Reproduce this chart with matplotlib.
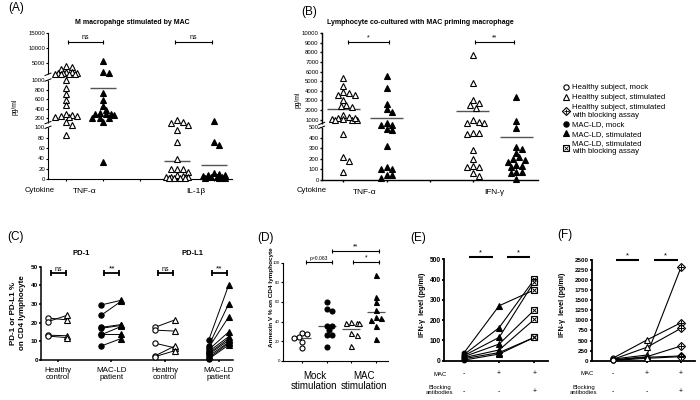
import numpy as np
import matplotlib
matplotlib.use("Agg")
import matplotlib.pyplot as plt
import matplotlib.transforms as mtrans
from matplotlib.lines import Line2D
from matplotlib.legend_handler import HandlerTuple

plt.rcParams['font.family'] = ['Liberation Sans', 'DejaVu Sans']
plt.rcParams['axes.linewidth'] = 0.8

W, H = 700, 400

# ---------------- Panel A : M macrophage stimulated by MAC (pg/ml) ----------------
a_categories = ["TNF-α", "IL-1β"]
a_tnf_healthy = [4000, 3650, 2900, 2000, 1800, 1500, 1400, 1400, 1300, 1300, 1200, 1200,
                 1000, 833, 712, 591, 484, 233, 269, 227, 241, 254, 283, 115, 105, 86]
a_tnf_mac = [5500, 1750, 1700, 730, 580, 460, 370, 300, 290, 265, 280, 315, 200, 215, 200, 115, 33]
a_il1b_healthy = [160, 130, 110, 105, 95, 72, 40, 20, 19, 20, 15, 8, 6, 5, 5, 4, 3, 3, 2, 2]
a_il1b_mac = [150, 72, 66, 12, 10, 8, 8, 6, 5, 5, 4, 3, 2, 2]
a_means = [1127, 840, 36, 27]
a_yticks = [0, 20, 40, 60, 80, 100, 200, 400, 600, 800, 1000, 5000, 10000, 15000]
a_sig = ["ns", "ns"]

# ---------------- Panel B : lymphocyte co-cultured (pg/ml) ----------------
b_categories = ["TNF-α", "IFN-γ"]
b_tnf_healthy = [5300, 4500, 3600, 3800, 3900, 3600, 3000, 2550, 2350, 2450, 1200, 1000, 1100,
                 1300, 1500, 1100, 1000, 1200, 1000, 440, 220, 185, 80]
b_tnf_mac = [5600, 4300, 2650, 2100, 1800, 480, 560, 650, 560, 470, 320, 100, 100, 125, 50, 50, 15]
b_ifn_healthy = [7700, 4800, 3050, 2770, 2560, 2180, 950, 650, 650, 800, 450, 445, 440, 280, 195,
                 125, 120, 133, 38, 64]
b_ifn_mac = [3400, 890, 490, 290, 260, 310, 175, 195, 215, 190, 133, 126, 142, 79, 64, 79, 5]
b_means = [2080, 1140, 1930, 405]
b_yticks = [0, 100, 200, 300, 400, 500, 1000, 2000, 3000, 4000, 5000, 6000, 7000, 8000, 9000, 10000]
b_sig = ["*", "**"]

# ---------------- Panel C : PD-1 / PD-L1 % on CD4 ----------------
c_categories = ["Healthy\ncontrol", "MAC-LD\npatient", "Healthy\ncontrol", "MAC-LD\npatient"]
c_pd1_hc_mock = [22.5, 20.5, 13.3, 12.8]
c_pd1_hc_stim = [21.5, 24.0, 13.0, 12.0]
c_pd1_mac_mock = [29.5, 24.0, 17.5, 17.0, 14.0, 13.5, 7.5]
c_pd1_mac_stim = [32.0, 31.5, 19.0, 18.5, 14.0, 18.0, 11.5]
c_pdl1_hc_mock = [17.5, 16.0, 9.0, 2.2, 1.8]
c_pdl1_hc_stim = [21.5, 15.5, 6.5, 7.5, 5.0]
c_pdl1_mac_mock = [10.5, 7.5, 6.5, 5.5, 4.5, 3.5, 3.0, 2.0, 1.0, 0.5]
c_pdl1_mac_stim = [40.0, 30.0, 23.0, 15.0, 12.5, 11.5, 10.5, 9.5, 9.0, 8.0]
c_sig = ["ns", "**", "ns", "**"]
c_yticks = [0, 10, 20, 30, 40, 50]

# ---------------- Panel D : Annexin V % ----------------
d_categories = ["Mock\nstimulation", "MAC\nstimulation"]
d_healthy_mock = [28.5, 27, 24.5, 23.5, 19, 13]
d_mac_mock = [60, 51, 53, 35, 31, 35, 26, 26, 14]
d_healthy_stim = [40, 38.5, 38, 38, 28, 26, 15]
d_mac_stim = [87, 65, 60, 52, 45, 44, 42, 35, 22]
d_means = [22.8, 35.4, 32.0, 50.0]
d_yticks = [0, 20, 40, 60, 80, 100]

# ---------------- Panel E : IFN-γ, MAC-LD (pg/ml) ----------------
e_mock = [39, 30, 25, 20, 15, 10, 3]
e_mac = [271, 163, 115, 82, 53, 40, 33]
e_block = [349, 401, 390, 250, 204, 115, 115]
e_yticks = [0, 100, 200, 300, 400, 500]

# ---------------- Panel F : IFN-γ, healthy (pg/ml) ----------------
f_mock = [40, 60, 30, 20, 10, 5]
f_mac = [141, 514, 333, 100, 86, 60]
f_block = [2318, 943, 804, 365, 117, 100]
f_yticks = [0, 250, 500, 750, 1000, 1250, 1500, 1750, 2000, 2250, 2500]

ef_mac_row = ["-", "+", "+"]
ef_block_row = ["-", "-", "+"]

# ============================================================================
fig = plt.figure(figsize=(7, 4), dpi=100)


def px_ax(l, t, r, b):
    return fig.add_axes([l / W, 1 - b / H, (r - l) / W, (b - t) / H])


def ftext(x, y, s, **kw):
    kw.setdefault('ha', 'center')
    kw.setdefault('va', 'center')
    return fig.text(x / W, 1 - y / H, s, **kw)


def piecewise(ax, kv, kp):
    kv = np.asarray(kv, float)
    kp = np.asarray(kp, float)
    s0 = (kp[1] - kp[0]) / (kv[1] - kv[0])
    s1 = (kp[-1] - kp[-2]) / (kv[-1] - kv[-2])

    def fwd(v):
        v = np.asarray(v, float)
        out = np.interp(v, kv, kp)
        out = np.where(v < kv[0], kp[0] + (v - kv[0]) * s0, out)
        return np.where(v > kv[-1], kp[-1] + (v - kv[-1]) * s1, out)

    def inv(p):
        p = np.asarray(p, float)
        out = np.interp(p, kp, kv)
        out = np.where(p < kp[0], kv[0] + (p - kp[0]) / s0, out)
        return np.where(p > kp[-1], kv[-1] + (p - kp[-1]) / s1, out)

    ax.set_yscale('function', functions=(fwd, inv))


def axis_break(ax, v_lo, v_hi):
    x0 = ax.get_xlim()[0]
    inv = ax.transAxes.inverted()
    y1 = inv.transform(ax.transData.transform((x0, v_lo)))[1]
    y2 = inv.transform(ax.transData.transform((x0, v_hi)))[1]
    dx = 3.0 / ax.bbox.width
    dy = 1.2 / ax.bbox.height
    ax.plot([0, 0], [y1, y2], transform=ax.transAxes, color='white', lw=2.5,
            clip_on=False, zorder=6, solid_capstyle='butt')
    for y in (y1, y2):
        ax.plot([-dx, dx], [y - dy, y + dy], transform=ax.transAxes, color='k',
                lw=0.7, clip_on=False, zorder=7)


def swarm_x(ax, xc, vals, d=6.0, max_half=12.0):
    """Spread points of one group sideways (in pixels) so markers overlap little."""
    vals = np.asarray(vals, float)
    pts = ax.transData.transform(np.column_stack([np.full(len(vals), float(xc)), vals]))
    ys = pts[:, 1]
    pxu = ax.transData.transform((xc + 1.0, 0.0))[0] - ax.transData.transform((xc, 0.0))[0]
    step = 0.5 * d
    cands = [0.0]
    j = 1
    while j * step <= max_half + 1e-9:
        cands += [j * step, -j * step]
        j += 1
    px_, py_ = [], []
    offs = np.zeros(len(vals))
    for i in np.argsort(-ys, kind='stable'):
        best, best_score = 0.0, -1.0
        chosen = None
        for c in cands:
            if px_:
                mind = min(np.hypot(c - a, ys[i] - b) for a, b in zip(px_, py_))
            else:
                mind = np.inf
            if mind >= 0.85 * d:
                chosen = c
                break
            if mind > best_score:
                best_score, best = mind, c
        if chosen is None:
            chosen = best
        offs[i] = chosen
        px_.append(chosen)
        py_.append(ys[i])
    return xc + offs / pxu


def bracket(ax, x1, x2, y, label, fs=5, lw=0.8, caps=True, cap_ms=3.5, pad=0.3):
    if caps:
        ax.plot([x1, x2], [y, y], color='k', lw=lw, marker='|', ms=cap_ms, mew=lw,
                clip_on=False, zorder=4)
    else:
        ax.plot([x1, x2], [y, y], color='k', lw=lw, clip_on=False,
                solid_capstyle='butt', zorder=4)
    ax.annotate(label, xy=((x1 + x2) / 2, y), xytext=(0, pad), textcoords='offset points',
                ha='center', va='bottom', fontsize=fs, annotation_clip=False)


def style(ax, labelsize, lw=0.8, bold=False):
    for s in ('top', 'right'):
        ax.spines[s].set_visible(False)
    for s in ('left', 'bottom'):
        ax.spines[s].set_linewidth(lw)
    ax.tick_params(axis='both', which='major', direction='out', length=1.6, width=lw,
                   pad=0.6, labelsize=labelsize)
    if bold:
        for t in ax.get_yticklabels():
            t.set_fontweight('bold')


OPEN = dict(mfc='white', mec='k', mew=0.8)
FILL = dict(mfc='k', mec='k', mew=0.8)

# ============================ Panel A ============================
axA = px_ax(48, 33, 232, 179.3)
piecewise(axA, [0, 100, 110, 1000, 1100, 15000], [0, 52, 56.7, 99.3, 105, 146.3])
axA.set_xlim(0.51, 5.49)
axA.set_ylim(0, 15000)
axA.set_yticks(a_yticks, labels=[str(t) for t in a_yticks])
axA.set_xticks([1, 2, 3, 4, 5], labels=[''] * 5)
axA.set_xticks([1.5, 4.5], labels=a_categories, minor=True)
style(axA, 4.3)
axA.tick_params(axis='x', which='minor', length=0, labelsize=6, pad=6.5)
a_pos = [1, 2, 4, 5]
for pos, vals, kind, m in zip(a_pos, [a_tnf_healthy, a_tnf_mac, a_il1b_healthy, a_il1b_mac],
                              [OPEN, FILL, OPEN, FILL], a_means):
    xs = swarm_x(axA, pos, vals, d=5.6, max_half=11.5)
    axA.plot(xs, vals, ls='none', marker='^', ms=3.8, clip_on=False, zorder=3, **kind)
    axA.hlines(m, pos - 0.36, pos + 0.36, color='#555555', lw=1.0, zorder=2)
axis_break(axA, 100, 110)
axis_break(axA, 1000, 1100)
bracket(axA, 1.05, 2.0, 12000, a_sig[0], fs=5)
bracket(axA, 3.95, 4.95, 12000, a_sig[1], fs=5)
ftext(132, 22, "M macropahge stimulated by MAC", fontsize=5, fontweight='bold')
ftext(16, 8.5, "(A)", fontsize=8.5)
ftext(15, 107, "pg/ml", fontsize=4.8, rotation=90)
ftext(40, 191, "Cytokine", fontsize=5.5)

# ============================ Panel B ============================
axB = px_ax(321.7, 33.3, 537.7, 180)
piecewise(axB, [0, 500, 600, 10000], [0, 52.7, 56.5, 146.7])
axB.set_xlim(0.5, 5.5)
axB.set_ylim(0, 10000)
axB.set_yticks(b_yticks, labels=[str(t) for t in b_yticks])
axB.set_xticks([1, 2, 3, 4, 5], labels=[''] * 5)
axB.set_xticks([1.5, 4.5], labels=b_categories, minor=True)
style(axB, 4.3, lw=1.0)
axB.tick_params(axis='x', which='minor', length=0, labelsize=6, pad=6.5)
for pos, vals, kind, m in zip(a_pos, [b_tnf_healthy, b_tnf_mac, b_ifn_healthy, b_ifn_mac],
                              [OPEN, FILL, OPEN, FILL], b_means):
    xs = swarm_x(axB, pos, vals, d=5.6, max_half=14.0)
    axB.plot(xs, vals, ls='none', marker='^', ms=3.8, clip_on=False, zorder=3, **kind)
    axB.hlines(m, pos - 0.38, pos + 0.38, color='#555555', lw=1.0, zorder=2)
axis_break(axB, 500, 600)
bracket(axB, 1.1, 2.05, 9100, b_sig[0], fs=5)
bracket(axB, 4.05, 4.95, 9100, b_sig[1], fs=5)
ftext(420, 22, "Lymphocyte co-cultured with MAC priming macrophage", fontsize=5, fontweight='bold')
ftext(309, 11.5, "(B)", fontsize=8.5)
ftext(298, 100, "pg/ml", fontsize=4.8, rotation=90)
ftext(311.5, 190, "Cytokine", fontsize=5.5)

# ============================ Legend ============================
handles = [
    Line2D([], [], ls='none', marker='o', ms=3.8, **OPEN),
    Line2D([], [], ls='none', marker='^', ms=4.2, **OPEN),
    (Line2D([], [], color='k', lw=0.8, marker='D', ms=3.6, **OPEN),
     Line2D([], [], ls='none', marker='+', ms=3.6, mec='k', mew=0.6)),
    Line2D([], [], ls='none', marker='o', ms=3.8, **FILL),
    Line2D([], [], ls='none', marker='^', ms=4.2, **FILL),
    (Line2D([], [], ls='none', marker='s', ms=3.8, **OPEN),
     Line2D([], [], ls='none', marker='x', ms=2.6, mec='k', mew=0.6)),
]
labels = ["Healthy subject, mock", "Healthy subject, stimulated",
          "Healthy subject, stimulated\nwith blocking assay", "MAC-LD, mock",
          "MAC-LD, stimulated", "MAC-LD, stimulated\nwith blocking assay"]
fig.legend(handles, labels, loc='upper left', bbox_to_anchor=(562 / W, 1 - 84 / H),
           frameon=False, fontsize=5.6, handlelength=1.0, handletextpad=0.35,
           labelspacing=0.3, borderpad=0, borderaxespad=0,
           handler_map={tuple: HandlerTuple(ndivide=1)})

# ============================ Panel C ============================
c0, cs = 57.5, 53.7
axC = px_ax(41, 266.7, 233, 360)
axC.set_xlim((41 - c0) / cs, (233 - c0) / cs)
axC.set_ylim(0, 50)
c_pos = [0, 1, 2, 3]
axC.set_yticks(c_yticks, labels=[str(t) for t in c_yticks])
axC.set_xticks(c_pos, labels=c_categories)
style(axC, 4.6, lw=1.1, bold=True)
axC.tick_params(axis='x', labelsize=5.8, pad=3.5)
for t in axC.get_xticklabels():
    t.set_linespacing(0.95)
off = 0.186
pairs = [(c_pd1_hc_mock, c_pd1_hc_stim, OPEN), (c_pd1_mac_mock, c_pd1_mac_stim, FILL),
         (c_pdl1_hc_mock, c_pdl1_hc_stim, OPEN), (c_pdl1_mac_mock, c_pdl1_mac_stim, FILL)]
for pos, (mock, stim, kind), sig in zip(c_pos, pairs, c_sig):
    for mv, sv in zip(mock, stim):
        axC.plot([pos - off, pos + off], [mv, sv], color='k', lw=0.7, zorder=2)
    axC.plot(np.full(len(mock), pos - off), mock, ls='none', marker='o', ms=3.8, zorder=3,
             clip_on=False, **kind)
    axC.plot(np.full(len(stim), pos + off), stim, ls='none', marker='^', ms=3.8, zorder=3,
             clip_on=False, **kind)
    bracket(axC, pos - 0.13, pos + 0.15, 46.5, sig, fs=5 if sig == 'ns' else 6,
            lw=1.3, cap_ms=4)
ftext(16, 237, "(C)", fontsize=8.5)
ftext(81, 253.5, "PD-1", fontsize=5.5, fontweight='bold')
ftext(193, 253.5, "PD-L1", fontsize=5.5, fontweight='bold')
ftext(18, 313, "PD-1 or PD-L1 %\non CD4 lymphocyte", fontsize=5.8, fontweight='bold',
      rotation=90, linespacing=1.25)

# ============================ Panel D ============================
ds = 24.67
axD = px_ax(283, 262.7, 388, 360.7)
axD.set_xlim(1 - (302 - 283) / ds, 4 + (388 - 376) / ds)
axD.set_ylim(0, 100)
axD.set_yticks(d_yticks, labels=[str(t) for t in d_yticks])
axD.set_xticks([1, 2, 3, 4], labels=[''] * 4)
axD.set_xticks([1.5, 3.5], labels=d_categories, minor=True)
style(axD, 3.2, lw=0.8)
axD.tick_params(axis='x', which='minor', length=0, labelsize=7, pad=7.5)
for t in axD.get_xticklabels(minor=True):
    t.set_linespacing(1.0)
d_markers = [('o', OPEN), ('o', FILL), ('^', OPEN), ('^', FILL)]
for pos, vals, (mk, kind), m in zip([1, 2, 3, 4],
                                    [d_healthy_mock, d_mac_mock, d_healthy_stim, d_mac_stim],
                                    d_markers, d_means):
    xs = swarm_x(axD, pos, vals, d=5.4, max_half=9.5)
    axD.plot(xs, vals, ls='none', marker=mk, ms=3.6, zorder=3, clip_on=False, **kind)
    axD.hlines(m, pos - 0.36, pos + 0.36, color='#555555', lw=0.9, zorder=2)
bracket(axD, 1.16, 2.2, 101, "p=0.063", fs=3.6, lw=0.8, cap_ms=3)
bracket(axD, 2.2, 4.13, 112, "**", fs=5, lw=0.8, cap_ms=3)
bracket(axD, 3.05, 4.13, 101, "*", fs=5, lw=0.8, cap_ms=3)
ftext(265, 238, "(D)", fontsize=8.5)
ftext(271, 297, "Annexin V % on CD4 lymphocyte", fontsize=4.6, fontweight='bold', rotation=90)

# ============================ Panel E ============================
es = 35.15
axE = px_ax(444, 259.3, 548, 360.7)
axE.set_xlim(1 - (464 - 444) / es, 3 + (548 - 534.3) / es)
axE.set_ylim(0, 500)
axE.set_yticks(e_yticks, labels=[str(t) for t in e_yticks])
axE.set_xticks([1, 2, 3], labels=[''] * 3)
style(axE, 4.8, lw=1.3, bold=True)
ef_x = [1, 2, 3]
for a, b, c in zip(e_mock, e_mac, e_block):
    axE.plot(ef_x, [a, b, c], color='k', lw=0.8, zorder=2)
axE.plot(np.full(len(e_mock), 1), e_mock, ls='none', marker='o', ms=3.4, zorder=3,
         clip_on=False, **FILL)
axE.plot(np.full(len(e_mac), 2), e_mac, ls='none', marker='^', ms=3.8, zorder=3, **FILL)
axE.plot(np.full(len(e_block), 3), e_block, ls='none', marker='s', ms=4.2, zorder=3, **OPEN)
axE.plot(np.full(len(e_block), 3), e_block, ls='none', marker='x', ms=3.0, mec='k',
         mew=0.7, zorder=4)
bracket(axE, 1.14, 1.82, 513, "*", fs=5.5, lw=1.5, caps=False)
bracket(axE, 2.22, 2.88, 513, "*", fs=5.5, lw=1.5, caps=False)
ftext(418, 238, "(E)", fontsize=8.5)
ftext(423, 305, "IFN-γ  level (pg/ml)", fontsize=5.2, fontweight='bold', rotation=90)
ftext(440, 374, "MAC", fontsize=4.3)
ftext(440, 390.5, "Blocking\nantibodies", fontsize=4.3, linespacing=1.0)

# ============================ Panel F ============================
fsp = 34.15
axF = px_ax(591.7, 260, 695, 360.7)
axF.set_xlim(1 - (612.7 - 591.7) / fsp, 3 + (695 - 681) / fsp)
axF.set_ylim(0, 2500)
axF.set_yticks(f_yticks, labels=[str(t) for t in f_yticks])
axF.set_xticks([1, 2, 3], labels=[''] * 3)
style(axF, 4.5, lw=1.3, bold=True)
for a, b, c in zip(f_mock, f_mac, f_block):
    axF.plot(ef_x, [a, b, c], color='k', lw=0.8, zorder=2)
axF.plot(np.full(len(f_mock), 1), f_mock, ls='none', marker='o', ms=3.6, zorder=3,
         clip_on=False, **OPEN)
axF.plot(np.full(len(f_mac), 2), f_mac, ls='none', marker='^', ms=3.8, zorder=3, **OPEN)
axF.plot(np.full(len(f_block), 3), f_block, ls='none', marker='D', ms=3.8, zorder=3, **OPEN)
axF.plot(np.full(len(f_block), 3), f_block, ls='none', marker='+', ms=3.8, mec='k',
         mew=0.7, zorder=4)
bracket(axF, 1.09, 1.78, 2500, "*", fs=5.5, lw=1.5, caps=False)
bracket(axF, 2.21, 2.9, 2500, "*", fs=5.5, lw=1.5, caps=False)
ftext(565, 235, "(F)", fontsize=8.5)
ftext(563, 305, "IFN-γ  level (pg/ml)", fontsize=5.2, fontweight='bold', rotation=90)
ftext(587.5, 373.5, "MAC", fontsize=4.3)
ftext(583.5, 390.5, "Blocking\nantibodies", fontsize=4.3, linespacing=1.0)

# "+"/"-" condition rows under E and F
for ax in (axE, axF):
    tr = mtrans.blended_transform_factory(ax.transData, fig.transFigure)
    for xv, s1, s2 in zip(ef_x, ef_mac_row, ef_block_row):
        ax.text(xv, 1 - 374 / H, s1, transform=tr, ha='center', va='center', fontsize=5)
        ax.text(xv, 1 - 392 / H, s2, transform=tr, ha='center', va='center', fontsize=5)

fig.savefig("out.png", dpi=100)
